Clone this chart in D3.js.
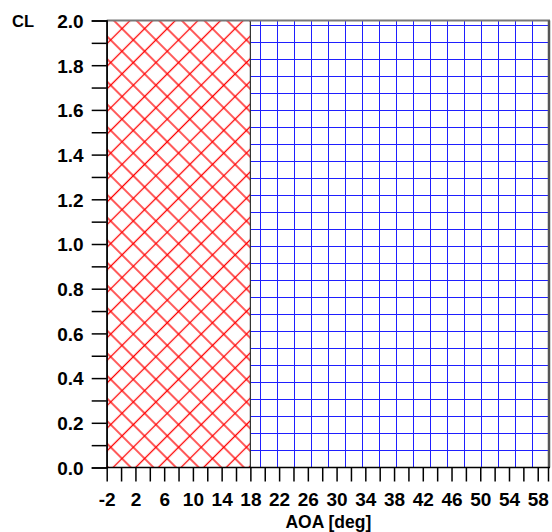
<!DOCTYPE html>
<html>
<head>
<meta charset="utf-8">
<script src="https://cdn.jsdelivr.net/npm/d3@7"></script>
<style>
  html, body { margin: 0; padding: 0; background: #fff; }
  svg { display: block; }
  text { font-family: 'Liberation Sans', Arial, sans-serif; font-weight: bold; fill: #000; }
</style>
</head>
<body>
<svg id="chart" width="552" height="532"></svg>
<script>
const xDomain = [-2, 60];
const yDomain = [0, 2.0];
const xTicks = d3.range(-2, 59, 2);
const xTickLabels = [-2, 2, 6, 10, 14, 18, 22, 26, 30, 34, 38, 42, 46, 50, 54, 58];
const yTicks = d3.range(0, 21).map(d => d / 10);
const yTickLabels = [0.0, 0.2, 0.4, 0.6, 0.8, 1.0, 1.2, 1.4, 1.6, 1.8, 2.0];
const regionStart = [-2, 18];
const regionEnd = [18, 60];
const regionFill = ['url(#hatch-red)', 'url(#grid-blue)'];
const xTitle = 'AOA [deg]';
const yTitle = 'CL';

const svg = d3.select('#chart');

const plotRight = 550;
const x = d3.scaleLinear().domain(xDomain).range([106.7, 552.1]);
const y = d3.scaleLinear().domain(yDomain).range([467.5, 20.5]);

const defs = svg.append('defs');

defs.append('clipPath')
  .attr('id', 'plot-clip')
  .append('rect')
  .attr('x', 0)
  .attr('y', 0)
  .attr('width', plotRight)
  .attr('height', 532);

// red diagonal crosshatch
const hatch = defs.append('pattern')
  .attr('id', 'hatch-red')
  .attr('width', 16)
  .attr('height', 16)
  .attr('patternUnits', 'userSpaceOnUse')
  .attr('patternTransform', 'rotate(45)');
hatch.append('line')
  .attr('x1', 10.5).attr('y1', -1).attr('x2', 10.5).attr('y2', 17)
  .attr('stroke', '#ff0000').attr('stroke-width', 1.3);
hatch.append('line')
  .attr('x1', -1).attr('y1', 14).attr('x2', 17).attr('y2', 14)
  .attr('stroke', '#ff0000').attr('stroke-width', 1.3);

// blue square grid
const grid = defs.append('pattern')
  .attr('id', 'grid-blue')
  .attr('width', 17)
  .attr('height', 17)
  .attr('patternUnits', 'userSpaceOnUse');
grid.append('line')
  .attr('x1', 5.5).attr('y1', 0).attr('x2', 5.5).attr('y2', 17)
  .attr('stroke', '#1f1fff').attr('stroke-width', 1);
grid.append('line')
  .attr('x1', 0).attr('y1', 8.5).attr('x2', 17).attr('y2', 8.5)
  .attr('stroke', '#1f1fff').attr('stroke-width', 1);

svg.append('g')
  .attr('clip-path', 'url(#plot-clip)')
  .selectAll('rect')
  .data(regionStart)
  .enter()
  .append('rect')
  .attr('x', d => x(d))
  .attr('y', y(yDomain[1]))
  .attr('width', (d, i) => x(regionEnd[i]) - x(d))
  .attr('height', y(yDomain[0]) - y(yDomain[1]))
  .attr('fill', (d, i) => regionFill[i])
  .attr('stroke', '#333')
  .attr('stroke-width', 1);

// frame: top and right in gray
svg.append('line')
  .attr('x1', x(xDomain[0])).attr('x2', plotRight)
  .attr('y1', y(yDomain[1])).attr('y2', y(yDomain[1]))
  .attr('stroke', '#777').attr('stroke-width', 2);
svg.append('line')
  .attr('x1', plotRight - 1).attr('x2', plotRight - 1)
  .attr('y1', y(yDomain[1])).attr('y2', y(yDomain[0]))
  .attr('stroke', '#555').attr('stroke-width', 2.5);
// end tick under the clipped right edge
svg.append('line')
  .attr('x1', plotRight - 1.5).attr('x2', plotRight - 1.5)
  .attr('y1', y(yDomain[0])).attr('y2', y(yDomain[0]) + 14)
  .attr('stroke', '#000').attr('stroke-width', 1.5);

const fmt = d3.format('.1f');

const yAxis = svg.append('g')
  .attr('transform', `translate(${x(xDomain[0])},0)`)
  .call(d3.axisLeft(y)
    .tickValues(yTicks)
    .tickSize(15)
    .tickPadding(8)
    .tickFormat(d => (yTickLabels.some(v => Math.abs(v - d) < 1e-9) ? fmt(d) : '')));
yAxis.select('.domain').attr('stroke', '#000').attr('stroke-width', 1.5);
yAxis.selectAll('.tick line').attr('stroke', '#000').attr('stroke-width', 1.5);
yAxis.selectAll('.tick text')
  .style('font-size', '19px')
  .attr('dy', '0.36em')
  .attr('font-family', null)
  .attr('fill', '#000');

const xAxis = svg.append('g')
  .attr('transform', `translate(0,${y(yDomain[0])})`)
  .call(d3.axisBottom(x)
    .tickValues(xTicks)
    .tickSize(14)
    .tickPadding(11)
    .tickFormat(d => (xTickLabels.includes(d) ? d : '')));
xAxis.select('.domain')
  .attr('d', `M${x(xDomain[0])},0H${plotRight}`)
  .attr('stroke', '#000').attr('stroke-width', 1.5);
xAxis.selectAll('.tick line').attr('stroke', '#000').attr('stroke-width', 1.5);
xAxis.selectAll('.tick text')
  .style('font-size', '19px')
  .attr('font-family', null)
  .attr('fill', '#000');

svg.append('text')
  .attr('x', (x(xDomain[0]) + plotRight) / 2)
  .attr('y', 528)
  .attr('text-anchor', 'middle')
  .style('font-size', '17.5px')
  .text(xTitle);

svg.append('text')
  .attr('x', 12)
  .attr('y', 26.5)
  .style('font-size', '16.5px')
  .text(yTitle);
</script>
</body>
</html>
